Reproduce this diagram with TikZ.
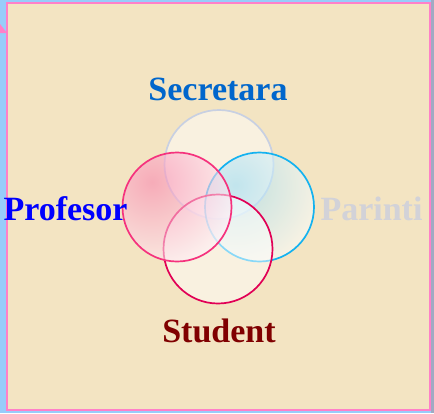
\documentclass[tikz,border=0pt]{standalone}
\usepackage{fontspec}
\setmainfont{Liberation Serif}
\usepackage{xcolor}

\definecolor{pergament}{RGB}{243,228,194}
\definecolor{himmel}{RGB}{152,204,250}
\definecolor{rahmen}{RGB}{255,128,200}
\definecolor{randgrau}{RGB}{160,170,195}
\definecolor{kreisgrau}{RGB}{200,208,226}
\definecolor{kreiscyan}{RGB}{20,178,240}
\definecolor{kreisrot}{RGB}{225,0,85}
\definecolor{kreisrosa}{RGB}{245,50,125}

\tikzset{
	menge/.style={circle, minimum size=109pt, inner sep=0pt, line width=1.7pt,
		fill=white, fill opacity=0.5, text opacity=1},
	rolle/.style={font=\fontsize{34}{40}\selectfont\bfseries, anchor=base}
}

\begin{document}
\begin{tikzpicture}[x=1pt, y=-1pt]
			\useasboundingbox (0,0) rectangle (434,413);
			% Hintergrund
			\fill[himmel] (0,0) rectangle (434,413);
			\fill[randgrau] (431,0) rectangle (434,413);
			\fill[pergament] (7,3) rectangle (430,410);
			\draw[rahmen, line width=1.6pt] (7,3) rectangle (430,410);
			\fill[rahmen] (0,24) -- (7,33) -- (0,33) -- cycle;
			% Vier Mengen
			\node[menge, draw=kreisgrau] (sec) at (219,164.5) {};
			\node[menge, draw=kreiscyan, fill opacity=0.2, path picture={
				\shade[inner color=kreiscyan!55, outer color=white, fill opacity=0.45]
				([shift={(-24,-22)}]path picture bounding box.center) circle (88);
			}] (par) at (259.5,207) {};
			\node[menge, draw=kreisrot] (stud) at (218,249) {};
			\node[menge, draw=kreisrosa, fill opacity=0.2, path picture={
				\shade[inner color=kreisrosa!70, outer color=white, fill opacity=0.5]
				([shift={(-25,-25)}]path picture bounding box.center) circle (98);
			}] (prof) at (177,207) {};
			% Beschriftungen
			\node[rolle, text={rgb,255:red,0;green,102;blue,204}] (secT) at (218,100) {Secretara};
			\node[rolle, text={rgb,255:red,0;green,0;blue,255}] (profT) at (65.5,220) {Profesor};
			\node[rolle, text={rgb,255:red,210;green,210;blue,216}] (parT) at (371.5,220) {Parinti};
			\node[rolle, text={rgb,255:red,128;green,0;blue,0}] (studT) at (219,342) {Student};
		\end{tikzpicture}
\end{document}
